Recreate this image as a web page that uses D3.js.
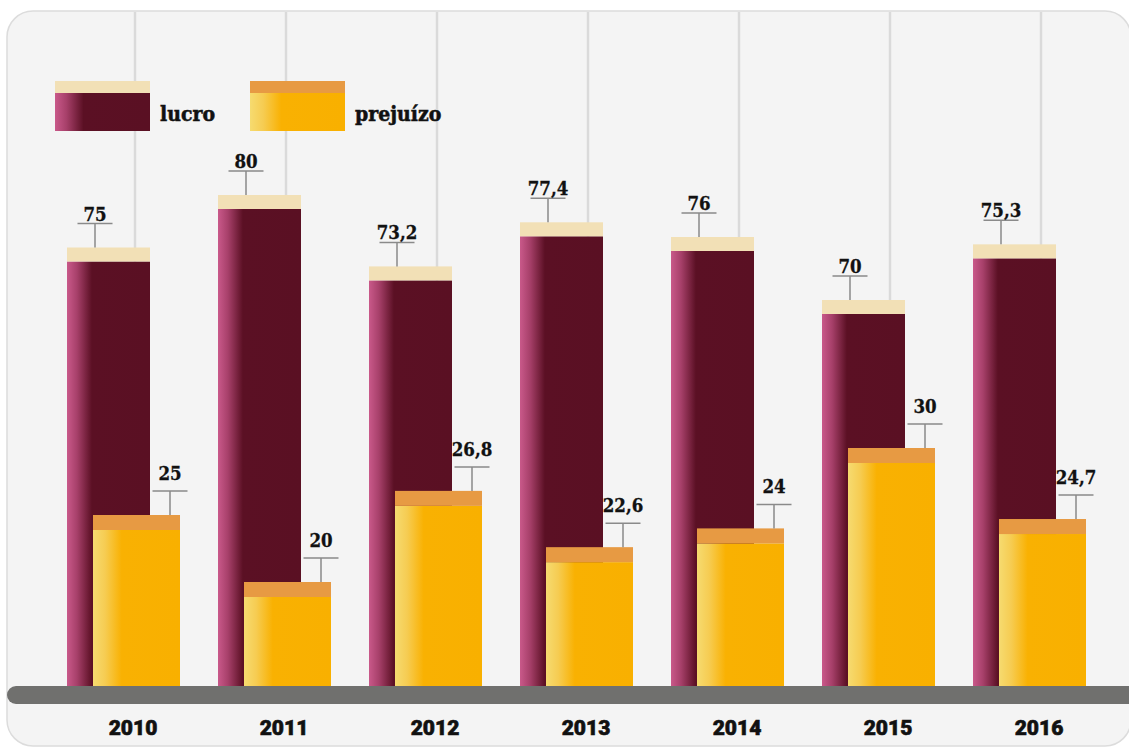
<!DOCTYPE html>
<html>
<head>
<meta charset="utf-8">
<script src="https://cdn.jsdelivr.net/npm/d3@7"></script>
<style>
  html, body { margin: 0; padding: 0; background: #fff; }
  svg { display: block; }
</style>
</head>
<body>
<div id="chart"></div>
<script>
// ---------- data ----------
const years = ["2010", "2011", "2012", "2013", "2014", "2015", "2016"];
const lucro = [75, 80, 73.2, 77.4, 76, 70, 75.3];
const prejuizo = [25, 20, 26.8, 22.6, 24, 30, 24.7];
const legendLabels = ["lucro", "prejuízo"];

// ---------- setup ----------
const width = 1129;
const height = 748;
const baseY = 686;

const svg = d3.select("#chart").append("svg")
    .attr("width", width)
    .attr("height", height);

// decimal comma, like the original
const ptBR = d3.formatLocale({ decimal: ",", thousands: ".", grouping: [3], currency: ["R$", ""] });
const fmt = ptBR.format("~g");

// x: one point per year
const x = d3.scalePoint().domain(years).range([133, 1039]);

// y: the original infographic is not drawn to proportion,
// so a piecewise linear scale follows its look
const y = d3.scaleLinear()
    .domain([0, 20, 30, 70, 80])
    .range([baseY, 582, 448, 300, 195]);

// gradients
const defs = svg.append("defs");
const gLucro = defs.append("linearGradient").attr("id", "gradLucro");
gLucro.append("stop").attr("offset", "0").attr("stop-color", "#c9598a");
gLucro.append("stop").attr("offset", "0.12").attr("stop-color", "#a7406a");
gLucro.append("stop").attr("offset", "0.3").attr("stop-color", "#5b1024");
gLucro.append("stop").attr("offset", "1").attr("stop-color", "#5a1023");

const gPrej = defs.append("linearGradient").attr("id", "gradPrej");
gPrej.append("stop").attr("offset", "0").attr("stop-color", "#f6db70");
gPrej.append("stop").attr("offset", "0.14").attr("stop-color", "#f6cc52");
gPrej.append("stop").attr("offset", "0.33").attr("stop-color", "#f9b102");
gPrej.append("stop").attr("offset", "1").attr("stop-color", "#f9b000");

// ----- panel -----
svg.append("rect")
    .attr("x", 7).attr("y", 11)
    .attr("width", 1124).attr("height", 735)
    .attr("rx", 26)
    .attr("fill", "#f4f4f4")
    .attr("stroke", "#dcdcdc")
    .attr("stroke-width", 1.5);

// vertical guide lines
svg.selectAll("line.grid")
    .data(years)
    .join("line")
    .attr("class", "grid")
    .attr("x1", d => x(d) + 2).attr("x2", d => x(d) + 2)
    .attr("y1", 12).attr("y2", baseY)
    .attr("stroke", "#dadada")
    .attr("stroke-width", 2.5);

// ----- bars -----
const lucroW = 83, prejW = 87;
const lucroCap = 14, prejCap = 15;

const rows = years.map((yr, i) => ({ year: yr, lucro: lucro[i], prejuizo: prejuizo[i] }));

const lucroG = svg.append("g");
lucroG.selectAll("rect.body")
    .data(rows)
    .join("rect")
    .attr("x", d => x(d.year) - 66)
    .attr("y", d => y(d.lucro) + lucroCap)
    .attr("width", lucroW)
    .attr("height", d => baseY + 4 - y(d.lucro) - lucroCap)
    .attr("fill", "url(#gradLucro)");
lucroG.selectAll("rect.cap")
    .data(rows)
    .join("rect")
    .attr("class", "cap")
    .attr("x", d => x(d.year) - 66)
    .attr("y", d => y(d.lucro))
    .attr("width", lucroW)
    .attr("height", lucroCap)
    .attr("fill", "#f2e0b6");

const prejG = svg.append("g");
prejG.selectAll("rect.body")
    .data(rows)
    .join("rect")
    .attr("x", d => x(d.year) - 40)
    .attr("y", d => y(d.prejuizo) + prejCap)
    .attr("width", prejW)
    .attr("height", d => baseY + 4 - y(d.prejuizo) - prejCap)
    .attr("fill", "url(#gradPrej)");
prejG.selectAll("rect.cap")
    .data(rows)
    .join("rect")
    .attr("class", "cap")
    .attr("x", d => x(d.year) - 40)
    .attr("y", d => y(d.prejuizo))
    .attr("width", prejW)
    .attr("height", prejCap)
    .attr("fill", "#e79a43");

// ----- value markers -----
const labelFont = "'DejaVu Serif Condensed', 'DejaVu Serif', serif";

function markers(key, dx, textGap) {
    const g = svg.append("g");
    rows.forEach(d => {
        const mx = x(d.year) + dx;
        const top = y(d[key]);
        const ly = top - 24;
        g.append("line")
            .attr("x1", mx).attr("x2", mx)
            .attr("y1", ly).attr("y2", top)
            .attr("stroke", "#8a8a8a").attr("stroke-width", 1.5);
        g.append("line")
            .attr("x1", mx - 17.5).attr("x2", mx + 17.5)
            .attr("y1", ly).attr("y2", ly)
            .attr("stroke", "#8a8a8a").attr("stroke-width", 1.5);
        g.append("text")
            .attr("x", mx).attr("y", ly - textGap)
            .attr("text-anchor", "middle")
            .attr("font-family", labelFont)
            .style("font-stretch", "condensed")
            .attr("font-weight", "bold")
            .attr("font-size", 18.5)
            .attr("fill", "#111")
            .attr("stroke", "#111")
            .attr("stroke-width", 0.3)
            .text(fmt(d[key]));
    });
}
markers("lucro", -38, 3);
markers("prejuizo", 37, 11);

// ----- ground bar -----
svg.append("rect")
    .attr("x", 7).attr("y", baseY)
    .attr("width", 1140).attr("height", 18)
    .attr("rx", 9)
    .attr("fill", "#70706e");

// year labels
svg.selectAll("text.year")
    .data(years)
    .join("text")
    .attr("class", "year")
    .attr("x", d => x(d))
    .attr("y", 735)
    .attr("text-anchor", "middle")
    .attr("font-family", "Roboto, 'Liberation Sans', sans-serif")
    .attr("font-weight", 900)
    .attr("font-size", 21)
    .attr("fill", "#111")
    .attr("stroke", "#111")
    .attr("stroke-width", 0.6)
    .text(d => d);

// ----- legend -----
const legend = [
    { label: legendLabels[0], x: 55, cap: "#f2e0b6", fill: "url(#gradLucro)" },
    { label: legendLabels[1], x: 250, cap: "#e79a43", fill: "url(#gradPrej)" }
];
const lg = svg.append("g");
legend.forEach(l => {
    lg.append("rect")
        .attr("x", l.x).attr("y", 93)
        .attr("width", 95).attr("height", 38)
        .attr("fill", l.fill);
    lg.append("rect")
        .attr("x", l.x).attr("y", 81)
        .attr("width", 95).attr("height", 12)
        .attr("fill", l.cap);
    lg.append("text")
        .attr("x", l.x + 105).attr("y", 121)
        .attr("font-family", labelFont)
        .style("font-stretch", "condensed")
        .attr("font-weight", "bold")
        .attr("font-size", 21)
        .attr("fill", "#111")
        .attr("stroke", "#111")
        .attr("stroke-width", 0.5)
        .text(l.label);
});
</script>
</body>
</html>
